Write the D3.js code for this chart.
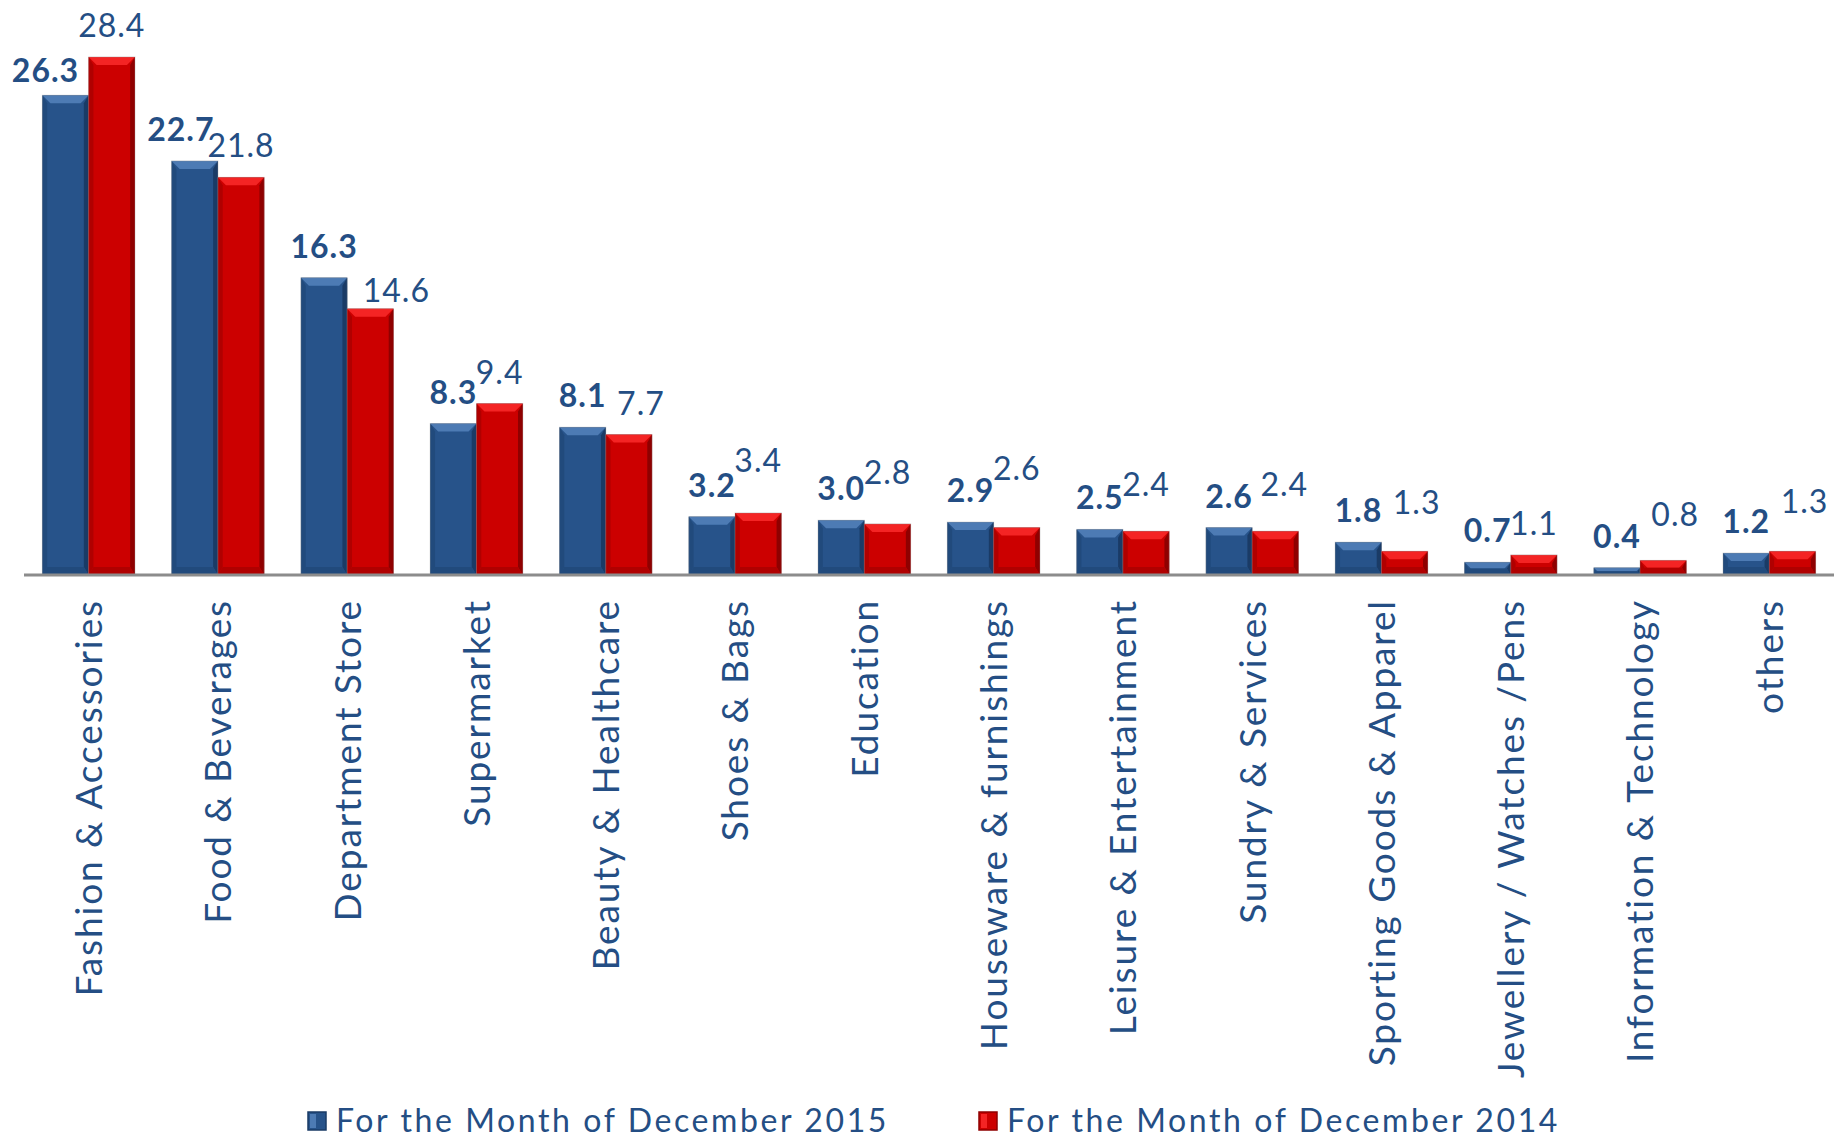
<!DOCTYPE html>
<html>
<head>
<meta charset="utf-8">
<script src="https://cdn.jsdelivr.net/npm/d3@7"></script>
<style>
  body { margin: 0; background: #fff; }
  text { font-family: Lato, "Open Sans", sans-serif; fill: #244e84; }
</style>
</head>
<body>
<div class="chart-wrapper"></div>
<script>
const categories = [
  'Fashion & Accessories', 'Food & Beverages', 'Department Store', 'Supermarket',
  'Beauty & Healthcare', 'Shoes & Bags', 'Education', 'Houseware & furnishings',
  'Leisure & Entertainment', 'Sundry & Services', 'Sporting Goods & Apparel',
  'Jewellery / Watches /Pens', 'Information & Technology', 'others'
]
const dec2015 = [26.3, 22.7, 16.3, 8.3, 8.1, 3.2, 3.0, 2.9, 2.5, 2.6, 1.8, 0.7, 0.4, 1.2]
const dec2014 = [28.4, 21.8, 14.6, 9.4, 7.7, 3.4, 2.8, 2.6, 2.4, 2.4, 1.3, 1.1, 0.8, 1.3]
const seriesNames = ['For the Month of December 2015', 'For the Month of December 2014']

// hand placed data labels in the original (dx, dy in px)
const nudge2015 = [[-20, 7], [-14, 0], [0, 0], [0, 0], [0, 0], [0, 0], [0, 0], [0, 0], [0, 0], [0, 0], [0, 0], [0, 0], [0, 0], [0, 0]]
const nudge2014 = [[0, 0], [0, 0], [26, 13], [0, 0], [12, 0], [0, -21], [0, -20], [0, -28], [0, -15], [9, -15], [12, -17], [0, 0], [12, -14], [12, -18]]

const width = 1836
const height = 1146
const baseY = 575

const palette = [
  { main: '#27538a', light: '#4d7bb4', dark: '#1a3b66', side: '#214a7c' },
  { main: '#cc0000', light: '#f42424', dark: '#8f0000', side: '#b00000' }
]

const svg = d3.select('.chart-wrapper')
  .append('svg')
  .attr('width', width)
  .attr('height', height)

const x0 = d3.scaleBand()
  .domain(categories)
  .range([24, 1834])
  .paddingInner(0.284)
  .paddingOuter(0.142)

const x1 = d3.scaleBand()
  .domain([0, 1])
  .range([0, x0.bandwidth()])

const y = d3.scaleLinear()
  .domain([0, 30])
  .range([baseY, baseY - 30 * 18.24])

const rows = categories.map((c, i) => ({
  cat: c,
  vals: [dec2015[i], dec2014[i]],
  nudges: [nudge2015[i], nudge2014[i]]
}))

const groups = svg.append('g')
  .selectAll('g')
  .data(rows)
  .enter()
  .append('g')
  .attr('transform', d => `translate(${x0(d.cat)},0)`)

const bars = groups.selectAll('g.bar')
  .data(d => d.vals.map((v, s) => ({ v, s, nudge: d.nudges[s] })))
  .enter()
  .append('g')
  .attr('class', 'bar')

// bevelled bar: body + top, left, right and bottom facets
bars.each(function (d) {
  const g = d3.select(this)
  const bx = x1(d.s)
  const bw = x1.bandwidth()
  const top = y(d.v)
  const bot = y(0)
  const h = bot - top
  const b = Math.min(8, h / 2)
  const col = palette[d.s]
  g.append('rect')
    .attr('x', bx).attr('y', top)
    .attr('width', bw).attr('height', h)
    .attr('fill', col.main)
  g.append('polygon')
    .attr('points', [[bx, top], [bx + bw, top], [bx + bw - b, top + b], [bx + b, top + b]].join(' '))
    .attr('fill', col.light)
  g.append('polygon')
    .attr('points', [[bx, top], [bx + b * 0.6, top + b], [bx + b * 0.6, bot - b], [bx, bot]].join(' '))
    .attr('fill', col.side)
  g.append('polygon')
    .attr('points', [[bx + bw, top], [bx + bw - b * 0.6, top + b], [bx + bw - b * 0.6, bot - b], [bx + bw, bot]].join(' '))
    .attr('fill', col.dark)
  g.append('polygon')
    .attr('points', [[bx, bot], [bx + b * 0.6, bot - b], [bx + bw - b * 0.6, bot - b], [bx + bw, bot]].join(' '))
    .attr('fill', col.side)
  g.append('rect')
    .attr('x', bx).attr('y', top)
    .attr('width', bw).attr('height', h)
    .attr('fill', 'none')
    .attr('stroke', '#8a8a8a')
    .attr('stroke-opacity', 0.35)
    .attr('stroke-width', 1)
})

bars.append('text')
  .attr('x', d => x1(d.s) + x1.bandwidth() / 2 + d.nudge[0])
  .attr('y', d => y(d.v) - 20 + d.nudge[1])
  .attr('text-anchor', 'middle')
  .style('font-size', '32px')
  .style('letter-spacing', '1px')
  .style('font-weight', d => d.s === 0 ? 'bold' : 'normal')
  .text(d => d3.format('.1f')(d.v))

// baseline
svg.append('line')
  .attr('x1', 24).attr('x2', 1834)
  .attr('y1', baseY).attr('y2', baseY)
  .attr('stroke', '#8c8c8c')
  .attr('stroke-width', 3)

// category labels, rotated
svg.append('g')
  .selectAll('text')
  .data(categories)
  .enter()
  .append('text')
  .attr('transform', d => `translate(${x0(d) + x0.bandwidth() / 2},599) rotate(-90)`)
  .attr('dy', '0.36em')
  .attr('text-anchor', 'end')
  .style('font-size', '37px')
  .style('letter-spacing', '1.9px')
  .text(d => d)

// legend
const legendX = [308, 979]
const legend = svg.append('g')
  .selectAll('g')
  .data(seriesNames)
  .enter()
  .append('g')
  .attr('transform', (d, i) => `translate(${legendX[i]},1121)`)

legend.append('rect')
  .attr('x', 0).attr('y', -9)
  .attr('width', 18).attr('height', 18)
  .attr('fill', (d, i) => palette[i].main)
  .attr('stroke', (d, i) => palette[i].dark)
  .attr('stroke-width', 1.5)

legend.append('polygon')
  .attr('points', '2,-7 8,-7 8,7 2,7')
  .attr('fill', (d, i) => palette[i].light)

legend.append('text')
  .attr('x', 28)
  .attr('dy', '0.35em')
  .style('font-size', '32px')
  .style('letter-spacing', '2.6px')
  .text(d => d)
</script>
</body>
</html>
